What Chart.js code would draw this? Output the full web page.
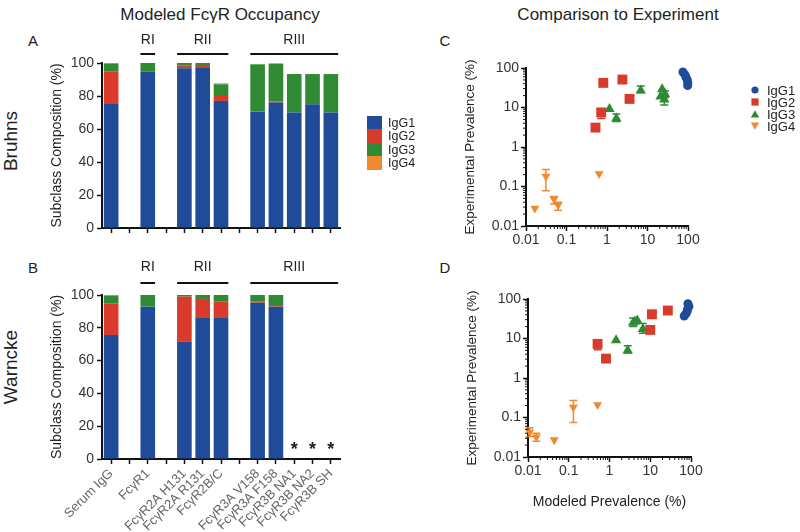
<!DOCTYPE html>
<html>
<head>
<meta charset="utf-8">
<script src="https://cdn.jsdelivr.net/npm/chart.js@4.4.1/dist/chart.umd.min.js"></script>
<style>
  body { margin: 0; background: #fff; }
  #fig { position: relative; width: 800px; height: 532px; overflow: hidden;
         font-family: "Liberation Sans", Arial, Helvetica, sans-serif; color: #222; }
  #fig canvas { position: absolute; }
  .lbl { position: absolute; white-space: nowrap; transform: translate(-50%, -50%); }
  .row { position: absolute; white-space: nowrap; font-size: 19px;
         transform: translate(-50%, -50%) rotate(-90deg); }
  .sw { position: absolute; width: 15px; height: 13.5px; }
  .key { position: absolute; white-space: nowrap; transform: translateY(-50%); }
  .mk { position: absolute; transform: translate(-50%, -50%); }
</style>
</head>
<body>
<div id="fig">
  <div class="lbl" style="left:220px;top:15px;font-size:17px">Modeled FcγR Occupancy</div>
  <div class="lbl" style="left:618px;top:15px;font-size:17px">Comparison to Experiment</div>
  <div class="lbl" style="left:33px;top:40px;font-size:15px">A</div>
  <div class="lbl" style="left:33px;top:267px;font-size:15px">B</div>
  <div class="lbl" style="left:445px;top:40px;font-size:15px">C</div>
  <div class="lbl" style="left:445px;top:267px;font-size:15px">D</div>
  <div class="row" style="left:11px;top:141px">Bruhns</div>
  <div class="row" style="left:11px;top:367px">Warncke</div>

  <canvas id="chartA" width="400" height="250" style="left:0;top:0"></canvas>
  <canvas id="chartB" width="400" height="282" style="left:0;top:250px"></canvas>
  <canvas id="chartC" width="400" height="250" style="left:400px;top:0"></canvas>
  <canvas id="chartD" width="400" height="282" style="left:400px;top:250px"></canvas>
  <div id="barKey"></div>
  <div id="dotKey"></div>
</div>
<script>
Chart.defaults.font.family = '"Liberation Sans", Arial, Helvetica, sans-serif';
Chart.defaults.color = '#333';

const subclasses = ['IgG1', 'IgG2', 'IgG3', 'IgG4'];
const subclassColors = ['#1f4b99', '#d93a2b', '#2f8a33', '#f08a2e'];

// bar categories ('' = spacer slot)
const receptors = ['Serum IgG', '', 'FcγR1', '', 'FcγR2A H131', 'FcγR2A R131', 'FcγR2B/C', '',
                   'FcγR3A V158', 'FcγR3A F158', 'FcγR3B NA1', 'FcγR3B NA2', 'FcγR3B SH'];
const groupLabels = ['RI', 'RII', 'RIII'];
const groupStart = [2, 4, 8];
const groupEnd = [2, 6, 12];

// subclass composition (%), Bruhns affinities
const bruhnsIgG1 = [75.6, null, 94.7, null, 96.8, 97.4, 77, null, 70.5, 76, 70, 75, 70];
const bruhnsIgG2 = [19.1, null, 0, null, 1.8, 0.8, 3, null, 0.4, 0.6, 0, 0, 0];
const bruhnsIgG3 = [5, null, 5.3, null, 1.4, 1.8, 7.1, null, 28.3, 23.1, 23.3, 18.3, 23.3];
const bruhnsIgG4 = [0.3, null, 0, null, 0, 0, 0.6, null, 0, 0, 0, 0, 0];

// subclass composition (%), Warncke affinities (no FcγR3B data)
const warnckeIgG1 = [75.6, null, 92.9, null, 71.6, 86.4, 86.4, null, 95.3, 92.9, null, null, null];
const warnckeIgG2 = [19.1, null, 0, null, 27.4, 11.2, 9.5, null, 0.6, 1.0, null, null, null];
const warnckeIgG3 = [5, null, 7.1, null, 1, 2.4, 4.1, null, 4.1, 6.1, null, null, null];
const warnckeIgG4 = [0.3, null, 0, null, 0, 0, 0, null, 0, 0, null, null, null];

const logTicks = [0.01, 0.1, 1, 10, 100];
const logTickLabels = ['0.01', '0.1', '1', '10', '100'];

// [modeled %, experimental %]
const bruhnsPrevIgG1 = [[75, 79], [84, 68], [90, 57], [96, 50], [99, 42], [98, 36]];
const bruhnsPrevIgG2 = [[0.81, 42], [2.4, 51], [3.6, 16.5], [0.72, 7.5], [0.52, 3.1]];
const bruhnsPrevIgG3 = [[1.15, 9.2], [1.7, 5.3], [6.8, 27], [23, 29], [21, 19], [26, 16], [27, 22]];
const bruhnsPrevIgG4 = [[0.0165, 0.028], [0.031, 0.18], [0.049, 0.048], [0.062, 0.034], [0.64, 0.21]];
const bruhnsErrIgG2 = [null, null, null, [5.3, 8.5], null];
const bruhnsErrIgG3 = [null, [4.4, 6.8], [24, 35], null, null, [11.5, 20], [18, 26]];
const bruhnsErrIgG4 = [null, [0.078, 0.27], [0.036, 0.056], [0.025, 0.04], null];

const warnckePrevIgG1 = [[84, 76], [89, 65], [83, 56], [80, 48], [75, 42], [68, 37]];
const warnckePrevIgG2 = [[11, 41], [27, 51], [10, 16.5], [0.51, 7.3], [0.82, 3.1]];
const warnckePrevIgG3 = [[1.45, 9], [2.8, 5], [3.8, 25], [4.8, 28.5], [4.2, 27], [6.6, 17.5]];
const warnckePrevIgG4 = [[0.011, 0.043], [0.016, 0.032], [0.044, 0.027], [0.13, 0.18], [0.51, 0.21]];
const warnckeErrIgG2 = [null, null, null, [5.2, 8.3], null];
const warnckeErrIgG3 = [null, [4.3, 6.6], [20, 33], null, null, [13.5, 24]];
const warnckeErrIgG4 = [[0.033, 0.055], [0.025, 0.04], null, [0.075, 0.27], null];

const markers = ['circle', 'rect', 'triangle', 'triangle'];
const markerSize = [4.5, 7, 6, 5.2];
const markerTurn = [0, 0, 0, 180];

const FONT = '"Liberation Sans", Arial, Helvetica, sans-serif';
const AXIS = '#111';

// RI / RII / RIII brackets above the bars, and * for receptors without data
const bracketPlugin = {
  id: 'brackets',
  afterDraw(chart, args, o) {
    const { ctx, chartArea, scales: { x, y } } = chart;
    const half = x.width / receptors.length * 0.4;
    ctx.save();
    ctx.strokeStyle = AXIS; ctx.lineWidth = 2; ctx.fillStyle = '#222';
    ctx.font = '14px ' + FONT; ctx.textAlign = 'center'; ctx.textBaseline = 'middle';
    groupLabels.forEach((g, i) => {
      const x1 = x.getPixelForValue(groupStart[i]) - half;
      const x2 = x.getPixelForValue(groupEnd[i]) + half;
      ctx.beginPath();
      ctx.moveTo(x1, chartArea.top - o.lineGap);
      ctx.lineTo(x2, chartArea.top - o.lineGap);
      ctx.stroke();
      ctx.fillText(g, (x1 + x2) / 2, chartArea.top - o.textGap);
    });
    ctx.font = 'bold 18px ' + FONT;
    receptors.forEach((r, i) => {
      if (r && chart.data.datasets.every(ds => ds.data[i] == null)) {
        ctx.fillText('*', x.getPixelForValue(i), y.getPixelForValue(0) - 9);
      }
    });
    ctx.restore();
  }
};

// error bars + short minor ticks on the log axes
const logExtras = {
  id: 'logExtras',
  beforeDatasetsDraw(chart) {
    const { ctx, scales: { x, y } } = chart;
    chart.data.datasets.forEach(ds => {
      if (!ds.err) return;
      ctx.save();
      ctx.strokeStyle = ds.pointBackgroundColor; ctx.lineWidth = 1.5;
      ds.data.forEach((p, i) => {
        const e = ds.err[i];
        if (!e) return;
        const px = x.getPixelForValue(p.x);
        const y1 = y.getPixelForValue(e[0]), y2 = y.getPixelForValue(e[1]);
        ctx.beginPath();
        ctx.moveTo(px, y1); ctx.lineTo(px, y2);
        ctx.moveTo(px - 4, y1); ctx.lineTo(px + 4, y1);
        ctx.moveTo(px - 4, y2); ctx.lineTo(px + 4, y2);
        ctx.stroke();
      });
      ctx.restore();
    });
  },
  afterDraw(chart) {
    const { ctx, chartArea, scales: { x, y } } = chart;
    ctx.save();
    ctx.strokeStyle = AXIS; ctx.lineWidth = 1;
    ctx.beginPath();
    logTicks.slice(0, -1).forEach(d => {
      for (let k = 2; k < 10; k++) {
        const px = x.getPixelForValue(k * d);
        ctx.moveTo(px, chartArea.bottom); ctx.lineTo(px, chartArea.bottom + 3);
        const py = y.getPixelForValue(k * d);
        ctx.moveTo(chartArea.left, py); ctx.lineTo(chartArea.left - 3, py);
      }
    });
    ctx.stroke();
    ctx.restore();
  }
};

function axisBase() {
  return {
    border: { color: AXIS, width: 2 },
    grid: { drawOnChartArea: false, offset: false, tickLength: 5, tickColor: AXIS, tickWidth: 1.5 }
  };
}

function barChart(id, series, opt) {
  return new Chart(document.getElementById(id), {
    type: 'bar',
    data: {
      labels: receptors,
      datasets: subclasses.map((name, i) => ({
        label: name, data: series[i], backgroundColor: subclassColors[i], borderWidth: 0,
        categoryPercentage: 1, barPercentage: 0.8
      }))
    },
    options: {
      responsive: false, animation: false,
      layout: { padding: opt.padding },
      plugins: { legend: { display: false }, tooltip: { enabled: false }, brackets: opt.brackets },
      scales: {
        x: Object.assign(axisBase(), {
          stacked: true,
          ticks: { display: opt.showLabels, autoSkip: false, minRotation: 45, maxRotation: 45,
                   color: '#666', font: { size: 13 }, padding: 2 },
          afterFit: s => { s.height = opt.xHeight; }
        }),
        y: Object.assign(axisBase(), {
          stacked: true, min: 0, max: 100,
          ticks: { stepSize: 20, color: '#333', font: { size: 14 }, padding: 3 },
          title: { display: true, text: 'Subclass Composition (%)', color: '#222', font: { size: 14 } },
          afterFit: s => { s.width = 57; }
        })
      }
    },
    plugins: [bracketPlugin]
  });
}

function scatterChart(id, points, errs, opt) {
  return new Chart(document.getElementById(id), {
    type: 'scatter',
    data: {
      datasets: subclasses.map((name, i) => ({
        label: name,
        data: points[i].map(p => ({ x: p[0], y: p[1] })),
        err: errs[i],
        pointStyle: markers[i], pointRadius: markerSize[i], pointRotation: markerTurn[i],
        pointBackgroundColor: subclassColors[i], pointBorderColor: subclassColors[i], pointBorderWidth: 0,
        clip: false
      }))
    },
    options: {
      responsive: false, animation: false,
      layout: { padding: opt.padding },
      plugins: { legend: { display: false }, tooltip: { enabled: false } },
      scales: {
        x: Object.assign(axisBase(), {
          type: 'logarithmic', min: 0.01, max: 100,
          afterBuildTicks: s => { s.ticks = logTicks.map(v => ({ value: v })); },
          ticks: { autoSkip: false, maxRotation: 0, color: '#333', font: { size: 14 }, padding: 1,
                   callback: (v, i) => logTickLabels[i] },
          title: { display: opt.xTitle, text: 'Modeled Prevalence (%)', color: '#222', font: { size: 14 } },
          afterFit: s => { s.height = opt.xHeight; }
        }),
        y: Object.assign(axisBase(), {
          type: 'logarithmic', min: 0.01, max: 100,
          afterBuildTicks: s => { s.ticks = logTicks.map(v => ({ value: v })); },
          ticks: { autoSkip: false, color: '#333', font: { size: 14 }, padding: 2,
                   callback: (v, i) => logTickLabels[i] },
          title: { display: true, text: 'Experimental Prevalence (%)', color: '#222', font: { size: 13.5 } },
          afterFit: s => { s.width = 68; }
        })
      }
    },
    plugins: [logExtras]
  });
}

barChart('chartA', [bruhnsIgG1, bruhnsIgG2, bruhnsIgG3, bruhnsIgG4], {
  padding: { left: 45, right: 60, top: 63, bottom: 0 }, xHeight: 22, showLabels: false,
  brackets: { lineGap: 9, textGap: 23 }
});
barChart('chartB', [warnckeIgG1, warnckeIgG2, warnckeIgG3, warnckeIgG4], {
  padding: { left: 45, right: 60, top: 45, bottom: 0 }, xHeight: 73, showLabels: true,
  brackets: { lineGap: 12, textGap: 28 }
});
scatterChart('chartC', [bruhnsPrevIgG1, bruhnsPrevIgG2, bruhnsPrevIgG3, bruhnsPrevIgG4],
  [null, bruhnsErrIgG2, bruhnsErrIgG3, bruhnsErrIgG4],
  { padding: { left: 58, right: 112, top: 68, bottom: 0 }, xHeight: 24, xTitle: false });
scatterChart('chartD', [warnckePrevIgG1, warnckePrevIgG2, warnckePrevIgG3, warnckePrevIgG4],
  [null, warnckeErrIgG2, warnckeErrIgG3, warnckeErrIgG4],
  { padding: { left: 60, right: 109, top: 49, bottom: 17.6 }, xHeight: 57.4, xTitle: true });

// legends
const barKey = document.getElementById('barKey');
const dotKey = document.getElementById('dotKey');
const shapes = [
  '<circle cx="5" cy="5" r="3.6"/>',
  '<rect x="1.4" y="1.4" width="7.2" height="7.2"/>',
  '<polygon points="5,1.2 9.2,8.6 0.8,8.6"/>',
  '<polygon points="5,8.8 9.2,1.4 0.8,1.4"/>'
];
subclasses.forEach((name, i) => {
  const top = 115.5 + i * 13.6;
  barKey.insertAdjacentHTML('beforeend',
    `<div class="sw" style="left:367px;top:${top}px;background:${subclassColors[i]}"></div>` +
    `<div class="key" style="left:388px;top:${top + 7}px;font-size:12.5px">${name}</div>`);
  const cy = 89.5 + i * 12.3;
  dotKey.insertAdjacentHTML('beforeend',
    `<svg class="mk" width="10" height="10" style="left:755px;top:${cy}px" fill="${subclassColors[i]}">${shapes[i]}</svg>` +
    `<div class="key" style="left:767px;top:${cy}px;font-size:13px">${name}</div>`);
});
</script>
</body>
</html>
